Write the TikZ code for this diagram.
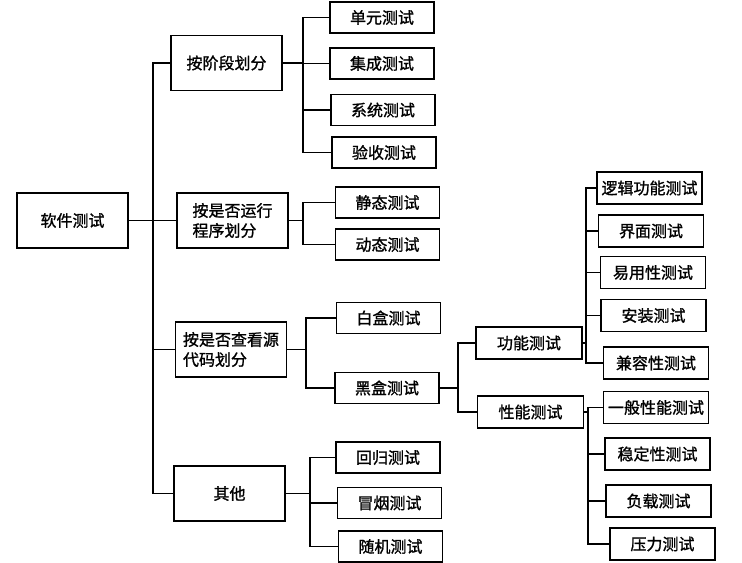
\documentclass[tikz,border=0pt]{standalone}
\usepackage{fontspec}
\setmainfont{Noto Sans CJK SC}[FakeBold=1.2]
\begin{document}
\begin{tikzpicture}[x=0.75pt,y=-0.75pt,
  line width=1.1pt,
  every node/.style={font=\fontsize{12}{15}\selectfont, inner sep=0pt},
  sbox/.style={draw, minimum width=78pt, minimum height=23.25pt},
  fbox/.style={draw, minimum width=78.75pt, minimum height=24pt},
  ebox/.style={draw, minimum width=79.5pt, minimum height=24pt},
  mbox/.style={draw, minimum width=83.25pt, minimum height=41.25pt, align=left}]
\useasboundingbox (0,0) rectangle (742,562);
% level 0
\node[mbox] (root) at (72.5,220.5) {软件测试};
% level 1
\node[mbox] (g1) at (226.5,63) {按阶段划分};
\node[mbox] (g2) at (232.5,220.5) {按是否运行\\程序划分};
\node[mbox] (g3) at (231,349.5) {按是否查看源\\代码划分};
\node[mbox] (g4) at (229.5,493.5) {其他};
% level 2
\node[sbox] (a1) at (382,17.5) {单元测试};
\node[sbox] (a2) at (382,63.5) {集成测试};
\node[sbox] (a3) at (383,110) {系统测试};
\node[sbox] (a4) at (384,152.5) {验收测试};
\node[sbox] (b1) at (387.5,202.5) {静态测试};
\node[sbox] (b2) at (387.5,244.5) {动态测试};
\node[sbox] (c1) at (388.5,318) {白盒测试};
\node[sbox] (c2) at (387,388) {黑盒测试};
\node[sbox] (d1) at (388,457.5) {回归测试};
\node[sbox] (d2) at (389.5,503) {冒烟测试};
\node[sbox] (d3) at (390.5,546.5) {随机测试};
% level 3
\node[ebox] (e1) at (529,343) {功能测试};
\node[ebox] (e2) at (530.5,412) {性能测试};
% level 4
\node[fbox] (f1) at (649.5,188) {逻辑功能测试};
\node[fbox] (f2) at (651,231) {界面测试};
\node[fbox] (f3) at (653,272.5) {易用性测试};
\node[fbox] (f4) at (653.5,315.5) {安装测试};
\node[fbox] (f5) at (656,363) {兼容性测试};
\node[fbox] (h1) at (656,407.5) {一般性能测试};
\node[fbox] (h2) at (657.5,454) {稳定性测试};
\node[fbox] (h3) at (658.5,501) {负载测试};
\node[fbox] (h4) at (662.5,544) {压力测试};
% junctions
\coordinate (t0) at (153,220.5);
\coordinate (j1) at (303,63);
\coordinate (j2) at (303,220.5);
\coordinate (j3) at (306,349.5);
\coordinate (j4) at (310,493.5);
\coordinate (j5) at (458,388);
\coordinate (j6) at (586,343);
\coordinate (j7) at (588,412);
% root
\draw (root.east) -- (g2.west);
\draw (g1.west) -| (t0) |- (g4.west);
\draw (g3.west) -- (g3.west -| t0);
% group 1
\draw (g1.east) -- (j1);
\draw (a1.west) -| (j1) |- (a4.west);
\draw (a2.west) -- (a2.west -| j1);
\draw (a3.west) -- (a3.west -| j1);
% group 2
\draw (g2.east) -- (j2);
\draw (b1.west) -| (j2) |- (b2.west);
% group 3
\draw (g3.east) -- (j3);
\draw (c1.west) -| (j3) |- (c2.west);
% group 4
\draw (g4.east) -- (j4);
\draw (d1.west) -| (j4) |- (d3.west);
\draw (d2.west) -- (d2.west -| j4);
% black box
\draw (c2.east) -- (j5);
\draw (e1.west) -| (j5) |- (e2.west);
% functional
\draw (e1.east) -- (j6);
\draw (f1.west) -| (j6) |- (f5.west);
\draw (f2.west) -- (f2.west -| j6);
\draw (f3.west) -- (f3.west -| j6);
\draw (f4.west) -- (f4.west -| j6);
% performance
\draw (e2.east) -- (j7);
\draw (h1.west) -| (j7) |- (h4.west);
\draw (h2.west) -- (h2.west -| j7);
\draw (h3.west) -- (h3.west -| j7);
\end{tikzpicture}
\end{document}
